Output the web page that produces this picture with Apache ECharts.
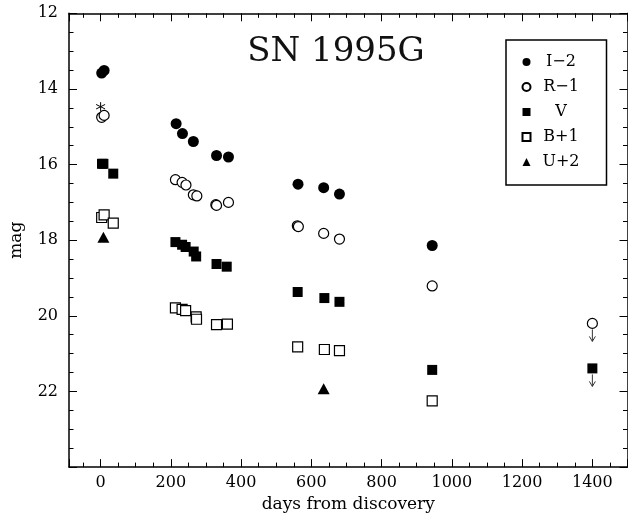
<!DOCTYPE html>
<html>
<head>
<meta charset="utf-8">
<script src="https://cdn.jsdelivr.net/npm/echarts@6/dist/echarts.min.js"></script>
<style>
html,body{margin:0;padding:0;background:#fff;}
#chart{width:628px;height:518px;}
</style>
</head>
<body>
<div id="chart"></div>
<script>
// ---- data (days from discovery, magnitude) ----
const iDays = [3, 10, 215, 233, 264, 330, 364, 562, 635, 680, 944];
const iMag  = [13.58, 13.51, 14.92, 15.18, 15.39, 15.76, 15.80, 16.52, 16.61, 16.78, 18.14];

const rDays = [3, 10, 213, 232, 243, 264, 274, 328, 330, 364, 560, 563, 635, 680, 944, 1400];
const rMag  = [14.75, 14.70, 16.40, 16.47, 16.54, 16.80, 16.83, 17.06, 17.08, 17.00, 17.62, 17.64, 17.82, 17.97, 19.21, 20.20];

const vDays = [4, 8, 36, 213, 232, 242, 265, 272, 330, 359, 561, 637, 680, 944, 1400];
const vMag  = [15.98, 15.98, 16.24, 18.05, 18.12, 18.18, 18.30, 18.43, 18.63, 18.70, 19.37, 19.53, 19.63, 21.43, 21.39];

const bDays = [3, 10, 36, 213, 232, 242, 272, 273, 330, 361, 561, 637, 680, 944];
const bMag  = [17.40, 17.33, 17.55, 19.79, 19.83, 19.86, 20.03, 20.09, 20.23, 20.22, 20.82, 20.89, 20.92, 22.25];

const uDays = [8, 635];
const uMag  = [17.92, 21.93];

// discovery (unfiltered) point shown as asterisk
const discDays = [0];
const discMag  = [14.47];

// upper limits (arrows)
const limDays = [1400, 1400];
const limMag  = [20.20, 21.39];

const seriesNames = ['I\u22122', 'R\u22121', 'V', 'B+1', 'U+2'];
const titleText = 'SN 1995G';
const xName = 'days from discovery';
const yName = 'mag';

const pairs = (xs, ys) => xs.map((x, i) => [x, ys[i]]);

const chart = echarts.init(document.getElementById('chart'));
const serif = 'DejaVu Serif';
const tickCommon = {
  axisLine: {show: true, onZero: false, lineStyle: {color: '#000', width: 1.5}},
  axisTick: {show: true, inside: true, length: 8, lineStyle: {color: '#000', width: 1}},
  minorTick: {show: true, splitNumber: 4, length: 4.5, lineStyle: {color: '#000', width: 1}},
  splitLine: {show: false}
};

const filled = {color: '#000', opacity: 1};
const open = {color: '#fff', borderColor: '#000', borderWidth: 1.2, opacity: 1};

chart.setOption({
  animation: false,
  backgroundColor: '#fff',
  grid: {left: 65.5, top: 13.3, right: 0.5, bottom: 49.3, containLabel: false},
  graphic: [{
    type: 'text', x: 336, y: 52,
    style: {text: titleText, font: '34px "DejaVu Serif"', fill: '#111', textAlign: 'center', textVerticalAlign: 'middle'}
  }],
  legend: {
    data: seriesNames,
    orient: 'vertical',
    left: 506, top: 40,
    padding: [14, 20, 15, 15.5],
    itemWidth: 8, itemHeight: 8,
    itemGap: 9,
    selectedMode: false,
    borderColor: '#000', borderWidth: 1.5,
    formatter: n => '{c|' + n + '}',
    textStyle: {
      color: '#000', fontFamily: serif, fontSize: 16,
      rich: {c: {width: 51, align: 'center', height: 14, lineHeight: 14, fontFamily: serif, fontSize: 16, color: '#000'}}
    }
  },
  xAxis: [
    Object.assign({
      type: 'value', position: 'bottom', min: -90, max: 1500, splitNumber: 8,
      name: xName, nameLocation: 'middle', nameGap: 24,
      nameTextStyle: {fontFamily: serif, fontSize: 17, color: '#000'},
      axisLabel: {fontFamily: serif, fontSize: 16, color: '#000', margin: 8, showMinLabel: false, showMaxLabel: false,
                  formatter: v => String(v)}
    }, tickCommon),
    Object.assign({
      type: 'value', position: 'top', min: -90, max: 1500, splitNumber: 8,
      axisLabel: {show: false}
    }, tickCommon)
  ],
  yAxis: [
    Object.assign({
      type: 'value', position: 'left', inverse: true, min: 12, max: 24, interval: 2,
      name: yName, nameLocation: 'middle', nameGap: 44, nameRotate: 90,
      nameTextStyle: {fontFamily: serif, fontSize: 17, color: '#000'},
      axisLabel: {fontFamily: serif, fontSize: 16, color: '#000', margin: 11, showMaxLabel: false,
                  formatter: v => String(v)}
    }, tickCommon),
    Object.assign({
      type: 'value', position: 'right', inverse: true, min: 12, max: 24, interval: 2,
      axisLabel: {show: false}
    }, tickCommon)
  ],
  series: [
    {name: seriesNames[0], type: 'scatter', symbol: 'circle', symbolSize: 11, itemStyle: filled, data: pairs(iDays, iMag), z: 3},
    {name: seriesNames[1], type: 'scatter', symbol: 'circle', symbolSize: 10, itemStyle: open, data: pairs(rDays, rMag), z: 3},
    {name: seriesNames[2], type: 'scatter', symbol: 'rect', symbolSize: 10, itemStyle: filled, data: pairs(vDays, vMag), z: 3},
    {name: seriesNames[3], type: 'scatter', symbol: 'rect', symbolSize: 10, itemStyle: open, data: pairs(bDays, bMag), z: 3},
    {name: seriesNames[4], type: 'scatter', symbol: 'triangle', symbolSize: [12, 11], itemStyle: filled, data: pairs(uDays, uMag), z: 3},
    {name: 'disc', type: 'scatter',
     symbol: 'path://M5 0L5 10M0.67 2.5L9.33 7.5M0.67 7.5L9.33 2.5', symbolSize: 9,
     itemStyle: {color: 'none', borderColor: '#000', borderWidth: 1, opacity: 1}, data: pairs(discDays, discMag), z: 3},
    {name: 'limits', type: 'custom', data: pairs(limDays, limMag), z: 2,
     renderItem: (params, api) => {
       const p = api.coord([api.value(0), api.value(1)]);
       const x = p[0], y0 = p[1] + 6, y1 = p[1] + 18;
       return {type: 'group', children: [
         {type: 'line', shape: {x1: x, y1: y0, x2: x, y2: y1}, style: {stroke: '#333', lineWidth: 1}},
         {type: 'polyline', shape: {points: [[x - 3, y1 - 5], [x, y1], [x + 3, y1 - 5]]}, style: {stroke: '#333', fill: null, lineWidth: 1}}
       ]};
     }}
  ]
});
</script>
</body>
</html>
